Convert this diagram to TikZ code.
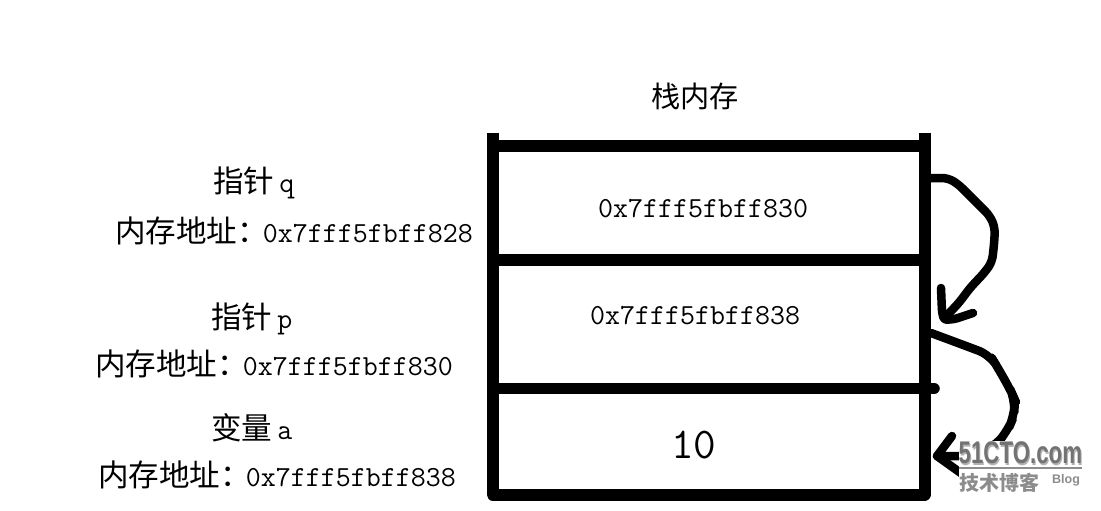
\documentclass[tikz,border=0pt]{standalone}
\usepackage{fontspec}
\setmainfont{Latin Modern Mono}
\newfontfamily\cjk[Scale=1.05]{Noto Sans CJK SC}
\newfontfamily\wm{Liberation Sans}
\usetikzlibrary{calc}
\tikzset{
  wall/.style={line width=12pt,line join=round},
  shelf/.style={line width=11.5pt},
  ink/.style={line width=8.5pt,line cap=round,line join=round},
  txt/.style={anchor=base west,inner sep=0pt,font=\fontsize{29.1}{30}\selectfont,text=black},
  wmtxt/.style={inner sep=0pt,text=black!45}
}
\newcommand{\wmlogo}{\scalebox{0.825}[1.16]{\wm\bfseries\fontsize{27}{30}\selectfont 51CTO.com}}
\begin{document}
\begin{tikzpicture}[x=1pt,y=-1pt]
\useasboundingbox (0,0) rectangle (1101,511);
% frame
\coordinate (tl) at (492.5,133); \coordinate (bl) at (492.5,494.5);
\coordinate (tr) at (924.5,133); \coordinate (br) at (924.5,494.5);
\coordinate (s1l) at (492,146); \coordinate (s1r) at (924,146);
\coordinate (s2l) at (492,260); \coordinate (s2r) at (924,260);
\coordinate (s3l) at (496,388.5); \coordinate (s3r) at (934,388.5);
\draw[shelf] (s1l) -- (s1r);
\draw[shelf] (s2l) -- (s2r);
\draw[shelf,line cap=round] (s3l) -- (s3r);
\draw[wall] (tl) -- (bl) -- (br) -- (tr);
% arrows
\coordinate (a1s) at (931,178);
\coordinate (a1t) at (945,317);
\coordinate (a1h1) at (941,288);
\coordinate (a1h2) at (973,313);
\draw[ink,rounded corners=6pt] (a1s) -- (948,178) -- (958,184) -- (980,206) -- (990,216) -- (995,228) -- (994,245) -- (992,262) -- (985,272) -- (970,288) -- (958,304) -- (a1t);
\draw[ink,rounded corners=3pt] (a1h1) -- (942,312) -- (944,320) -- (955,319) -- (a1h2);
\coordinate (a2s) at (931,333);
\coordinate (a2t) at (937,456);
\draw[ink,rounded corners=12pt] (a2s) -- (958,343) -- (990,355) -- (998,368) -- (1011,391) -- (1015,400) -- (1014,416) -- (1008,430) -- (995,446) -- (975,456) -- (a2t);
\draw[ink] (952,436) -- (a2t) -- (965,476);
% watermark
\fill[white] (959,441) rectangle (1084,496);
\node[wmtxt,text=black!30,anchor=base west] (wm0) at (959.5,465) {\wmlogo};
\node[wmtxt,text=black!55,anchor=base west] (wm1) at (958.5,463.5) {\wmlogo};
\draw[black!45,line width=2pt] (959,467.5) -- (1082,467.5);
\node[wmtxt,anchor=base west] (wm2) at (959,490) {\cjk\bfseries\fontsize{19}{20}\selectfont 技术博客};
\node[wmtxt,anchor=base west] (wm3) at (1052,483) {\wm\bfseries\fontsize{12.5}{14}\selectfont Blog};
% text
\node[txt] (title) at (651,107) {\fontsize{27.8}{30}\selectfont\cjk 栈内存};
\node[txt] (q) at (213,192) {\cjk 指针\kern 5pt{\rmfamily q}};
\node[txt] (qa) at (115,242) {{\cjk 内存地址：}\kern-5pt 0x7fff5fbff828};
\node[txt] (p) at (211,328) {\cjk 指针\kern 5pt{\rmfamily p}};
\node[txt] (pa) at (95,375) {{\cjk 内存地址：}\kern-5pt 0x7fff5fbff830};
\node[txt] (a) at (211,439) {\cjk 变量\kern 5pt{\rmfamily a}};
\node[txt] (aa) at (98,486) {{\cjk 内存地址：}\kern-5pt 0x7fff5fbff838};
\node[txt] (c1) at (598,217) {0x7fff5fbff830};
\node[txt] (c2) at (590,324) {0x7fff5fbff838};
\node[txt,font=\fontsize{44}{46}\selectfont] (c3) at (671,458) {10};
\end{tikzpicture}
\end{document}
